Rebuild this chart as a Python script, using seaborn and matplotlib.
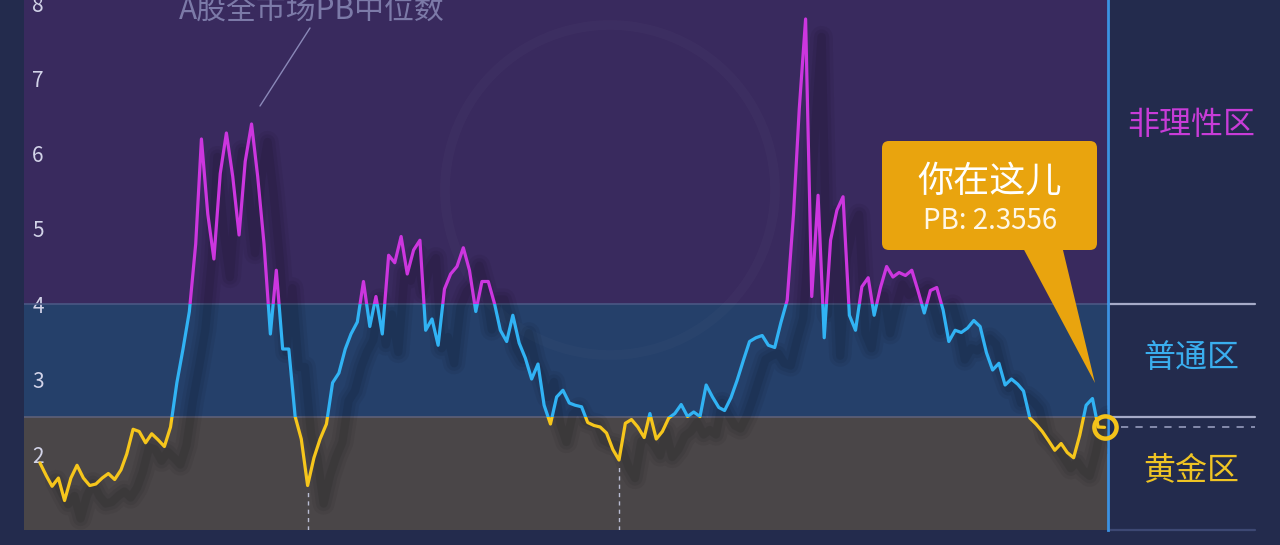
import numpy as np
import pandas as pd
import matplotlib
matplotlib.use("Agg")
import matplotlib.pyplot as plt
import matplotlib.dates as mdates
import matplotlib.transforms as mtransforms
from matplotlib.patches import Rectangle, FancyBboxPatch, Polygon, Circle
from matplotlib.lines import Line2D
import seaborn as sns

W, H = 1280, 545

# 月度 A股全市场PB中位数
start_month = "2005-01-01"
pb_2005_2006 = [1.88, 1.71, 1.57, 1.68, 1.38, 1.68, 1.85, 1.68, 1.58, 1.60, 1.68, 1.74,
                1.66, 1.79, 2.00, 2.33, 2.30, 2.15, 2.27, 2.19, 2.10, 2.36, 2.95, 3.40]
pb_2007_2008 = [3.90, 4.80, 6.20, 5.20, 4.60, 5.74, 6.28, 5.70, 4.92, 5.90, 6.40, 5.70,
                4.80, 3.60, 4.45, 3.40, 3.40, 2.50, 2.20, 1.58]
pb_2009_2012 = [1.95, 2.20, 2.40, 2.95, 3.08, 3.40, 3.60, 3.76, 4.30, 3.70, 4.10, 3.60,
                4.65, 4.55, 4.90, 4.40, 4.72, 4.85, 3.65, 3.80, 3.45, 4.20, 4.40, 4.50,
                4.75, 4.45, 3.90, 4.30, 4.30, 4.00, 3.65, 3.50, 3.85, 3.48, 3.28, 3.00,
                3.20, 2.65, 2.40, 2.76, 2.85, 2.68, 2.65, 2.63, 2.42, 2.38, 2.36, 2.28,
                2.06, 1.92]
pb_2013_2016 = [2.41, 2.46, 2.36, 2.22, 2.54, 2.20, 2.30, 2.48, 2.54, 2.66, 2.50, 2.56,
                2.50, 2.92, 2.76, 2.62, 2.58, 2.75, 2.98, 3.25, 3.50, 3.55, 3.58, 3.45,
                3.42, 3.75, 4.05, 5.20, 6.60, 7.80, 4.10, 5.45, 3.55, 4.85, 5.25, 5.43,
                3.85, 3.65, 4.23, 4.35, 3.85, 4.22, 4.50, 4.36, 4.42, 4.38, 4.45, 4.18]
pb_2017_2019 = [3.88, 4.18, 4.22, 3.92, 3.50, 3.65, 3.62, 3.68, 3.78, 3.70, 3.35, 3.12,
                3.21, 2.92, 3.00, 2.93, 2.84, 2.48, 2.40, 2.30, 2.18, 2.05, 2.14, 2.02,
                1.95, 2.25, 2.65, 2.74, 2.36, 2.3556]

zone_edges = [2.5, 4.0]
zone_names = ["黄金区", "普通区", "非理性区"]
y_ticks = [2, 3, 4, 5, 6, 7, 8]
series_label = "A股全市场PB中位数"
callout_title = "你在这儿"

# 颜色
BG = "#232b4d"
BAND_COLORS = ["#4a4648", "#25406a", "#392a5e"]
LINE_COLORS = ["#f6c61c", "#31b3f4", "#cc36df"]
ZONE_TEXT = ["#efc424", "#3aaeee", "#c83cd8"]
GOLD = "#e9a40e"

pb = pb_2005_2006 + pb_2007_2008 + pb_2009_2012 + pb_2013_2016 + pb_2017_2019
dates = pd.date_range(start_month, periods=len(pb), freq="MS")
df = pd.DataFrame({"date": dates, "pb": pb})
current_pb = pb[-1]

sns.set_theme(style="dark")
plt.rcParams["font.family"] = ["Noto Sans CJK SC", "DejaVu Sans"]

fig = plt.figure(figsize=(W / 100, H / 100), dpi=100, facecolor=BG)
ax = fig.add_axes([24 / W, 15 / H, 1084 / W, 530 / H])
ax.set_facecolor(BG)

ylo, yhi = 0.987, 8.053
ax.set_ylim(ylo, yhi)
xnum = mdates.date2num(dates)
step = (xnum[-1] - xnum[0]) / (len(xnum) - 1)
ax.set_xlim(xnum[0] - 2.57 * step, xnum[-1] + 0.56 * step)

# 三个区域背景
edges = [ylo - 1] + zone_edges + [yhi + 1]
for i in range(3):
    ax.axhspan(edges[i], edges[i + 1], color=BAND_COLORS[i], lw=0, zorder=0)
ax.axhline(zone_edges[1], color="#4a5784", lw=1.2, zorder=1)
ax.axhline(zone_edges[0], color="#5e6078", lw=1.2, zorder=1)

# 水印圆
ax.add_patch(Circle((610, H - 190), 165, transform=mtransforms.IdentityTransform(),
                    fill=False, ec="white", lw=7, alpha=0.018, zorder=1))

# 阴影（柔和）
shadow_tf = mtransforms.offset_copy(ax.transData, fig=fig, x=16, y=-18, units="dots")
for lw, a in [(16, 0.05), (11, 0.06), (6, 0.08)]:
    sns.lineplot(data=df, x="date", y="pb", ax=ax, color="black", linewidth=lw,
                 alpha=a, estimator=None, sort=False, zorder=3)
    ax.lines[-1].set_transform(shadow_tf)
    ax.lines[-1].set_solid_joinstyle("round")

# 按区域着色的折线
for i in range(3):
    sns.lineplot(data=df, x="date", y="pb", ax=ax, color=LINE_COLORS[i], linewidth=2.3,
                 estimator=None, sort=False, zorder=4)
    clip = Rectangle((-1e6, edges[i]), 2e7, edges[i + 1] - edges[i], transform=ax.transData)
    ax.lines[-1].set_clip_path(clip)

# 2008 与 2012 两个底部的虚线
offset = len(pb_2005_2006)
for chunk in [pb_2007_2008, pb_2009_2012]:
    k = offset + int(np.argmin(chunk))
    ax.vlines(dates[k], ylo, pb[k] - 0.06, colors="#b9bcd2", lw=1,
              linestyles=(0, (3, 3)), zorder=5)
    offset += len(chunk)

# 坐标轴
ax.set_xlabel("")
ax.set_ylabel("")
ax.set_xticks([])
ax.set_yticks(y_ticks)
ax.set_yticklabels([str(t) for t in y_ticks])
ax.tick_params(axis="y", length=0, pad=-6, labelsize=15, labelcolor="#d2d3e8")
for lab in ax.get_yticklabels():
    lab.set_horizontalalignment("left")
for side in ["top", "left", "bottom"]:
    ax.spines[side].set_visible(False)
ax.spines["right"].set_color("#3b92e2")
ax.spines["right"].set_linewidth(2)
ax.grid(False)

# 右侧分区线
right_end = (1255 - 24) / 1084
ytf = ax.get_yaxis_transform()
for e in zone_edges:
    ax.plot([1.0, right_end], [e, e], transform=ytf, color="#a6abc8", lw=1.6, clip_on=False)
ax.plot([1.0, right_end], [ylo, ylo], transform=ytf, color="#3d4873", lw=1.6, clip_on=False)
ax.plot([1.012, right_end], [current_pb, current_pb], transform=ytf, color="#8d93b3",
        lw=1.3, ls=(0, (4, 4)), clip_on=False)

# 当前位置标记
ax.plot(dates[-1:], [current_pb], marker="o", ms=16, mfc="none", mec="#f4c21a", mew=3.2,
        clip_on=False, zorder=10)

# 区域名称
for name, color, y in zip(zone_names, ZONE_TEXT, [470, 358, 125]):
    fig.text(1191 / W, 1 - y / H, name, color=color, fontsize=23, ha="center", va="center")

# 曲线名称及引线
fig.text(312 / W, 1 - 19 / H, series_label, color="#7c7aa8", fontsize=21.5,
         ha="center", va="baseline")
fig.add_artist(Line2D([310 / W, 260 / W], [1 - 28 / H, 1 - 106 / H],
                      transform=fig.transFigure, color="#8a88b8", lw=1))

# 气泡
idt = mtransforms.IdentityTransform()
fig.add_artist(Polygon([(1022, H - 246), (1062, H - 246), (1095, H - 383)],
                       closed=True, transform=idt, color=GOLD, lw=0))
fig.add_artist(FancyBboxPatch((882, H - 250), 215, 109,
                              boxstyle="round,pad=0,rounding_size=7",
                              transform=idt, color=GOLD, lw=0))
fig.text(990 / W, 1 - 182 / H, callout_title, color="white", fontsize=26,
         ha="center", va="center")
fig.text(990 / W, 1 - 221 / H, f"PB: {current_pb}", color="#fff7e6", fontsize=20,
         ha="center", va="center")

fig.savefig("out.png", dpi=100, facecolor=fig.get_facecolor())
